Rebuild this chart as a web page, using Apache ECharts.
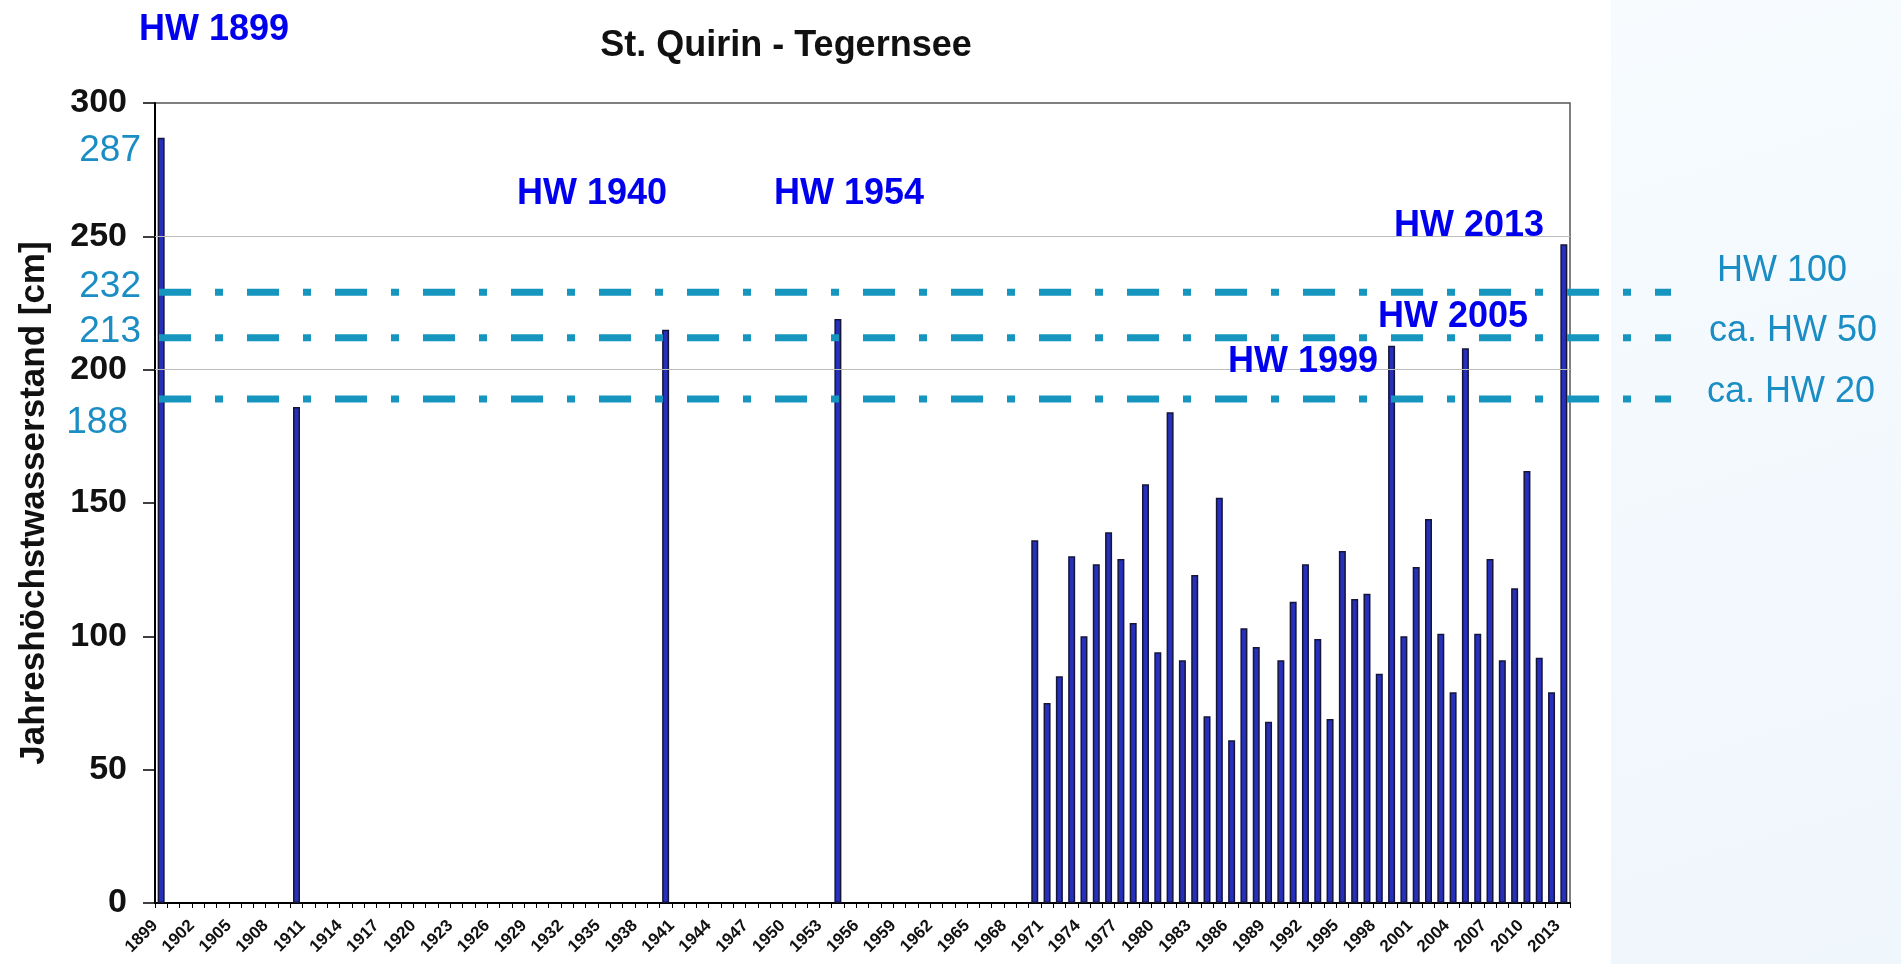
<!DOCTYPE html>
<html><head><meta charset="utf-8">
<script src="https://cdn.jsdelivr.net/npm/echarts@6/dist/echarts.min.js"></script>
<style>html,body{margin:0;padding:0;background:#fff}#c{width:1901px;height:964px}</style>
</head><body><div id="c"></div>
<script>
// ---------- data ----------
const firstYear = 1899;
const lastYear = 2013;
const years = [];
for (let y = firstYear; y <= lastYear; y++) years.push(String(y));
const tickYears = [];
for (let y = firstYear; y <= lastYear + 1; y++) tickYears.push(String(y));

// annual maximum water level [cm], null = no record
const waterLevel = [
  287,                                                   // 1899
  null,null,null,null,null,null,null,null,null,null,     // 1900-1909
  186,                                                   // 1910
  null,null,null,null,null,null,null,null,null,null,     // 1911-1920
  null,null,null,null,null,null,null,null,null,null,     // 1921-1930
  null,null,null,null,null,null,null,null,null,          // 1931-1939
  215,                                                   // 1940
  null,null,null,null,null,null,null,null,null,null,null,null,null, // 1941-1953
  219,                                                   // 1954
  null,null,null,null,null,null,null,null,null,null,null,null,null,null,null, // 1955-1969
  136, 75, 85,130,100,127,139,129,105,157,               // 1970-1979
   94,184, 91,123, 70,152, 61,103, 96, 68,               // 1980-1989
   91,113,127, 99, 69,132,114,116, 86,209,               // 1990-1999
  100,126,144,101, 79,208,101,129, 91,118,               // 2000-2009
  162, 92, 79,247                                        // 2010-2013
];

const yMin = 0, yMax = 300, yStep = 50;
const gridLevels = [200, 250];
const thresholdLevels = [229, 212, 189];
const leftLabels = ['287', '232', '213', '188'];
const rightLabels = ['HW 100', 'ca. HW 50', 'ca. HW 20'];
const floodLabels = ['HW 1899', 'HW 1940', 'HW 1954', 'HW 1999', 'HW 2005', 'HW 2013'];
const chartTitle = 'St. Quirin - Tegernsee';
const yAxisTitle = 'Jahreshöchstwasserstand [cm]';

// ---------- chart ----------
const FONT = '"Liberation Sans", Arial, sans-serif';
const TEAL_TXT = '#1a8dc4';
const TEAL_LINE = '#1696bf';
const BLUE = '#0000ee';

const chart = echarts.init(document.getElementById('c'), null, {renderer: 'canvas'});

const thresholdSeries = thresholdLevels.map((lv) => ({
  type: 'line',
  xAxisIndex: 2,
  yAxisIndex: 1,
  data: [[0, lv], [1, lv]],
  symbol: 'none',
  silent: true,
  z: 5,
  lineStyle: {color: TEAL_LINE, width: 7, type: [32, 24, 8, 24], cap: 'butt'}
}));

function txt(text, x, y, size, weight, color, align) {
  return {
    type: 'text', x: x, y: y, z: 10,
    style: {text: text, fill: color, font: weight + ' ' + size + 'px ' + FONT,
            align: align || 'center', verticalAlign: 'middle'}
  };
}

const floodPos = [[214, 30], [592, 194], [849, 194], [1303, 362], [1453, 317], [1469, 226]];
const leftPos = [[141, 151], [141, 287], [141, 332], [128, 423]];
const rightPos = [[1782, 271], [1793, 331], [1791, 392]];

const graphics = [
  {type: 'rect', z: -1, shape: {x: 1611, y: 0, width: 290, height: 964},
   style: {fill: new echarts.graphic.LinearGradient(0, 0, 1, 1, [
     {offset: 0, color: '#f7fbfe'}, {offset: 1, color: '#eff6fc'}])}},
  txt(chartTitle, 786, 46, 36, 'bold', '#111', 'center')
];
floodLabels.forEach((t, i) => graphics.push(txt(t, floodPos[i][0], floodPos[i][1], 36, 'bold', BLUE)));
leftLabels.forEach((t, i) => graphics.push(txt(t, leftPos[i][0], leftPos[i][1], 37, 'normal', TEAL_TXT, 'right')));
rightLabels.forEach((t, i) => graphics.push(txt(t, rightPos[i][0], rightPos[i][1], 36, 'normal', TEAL_TXT)));

const option = {
  backgroundColor: '#ffffff',
  animation: false,
  textStyle: {fontFamily: FONT},
  grid: [
    {left: 155, right: 331, top: 103, bottom: 61, show: true, borderColor: '#555', borderWidth: 1.5, backgroundColor: 'transparent'},
    {left: 159, right: 230, top: 103, bottom: 61, show: false}
  ],
  xAxis: [
    {type: 'category', gridIndex: 0, data: years, boundaryGap: true,
     axisLine: {show: true, lineStyle: {color: '#000', width: 2}},
     axisTick: {show: true, interval: 0, length: 5, lineStyle: {color: '#000', width: 1}},
     axisLabel: {show: false}, splitLine: {show: false}},
    {type: 'category', gridIndex: 0, position: 'bottom', data: tickYears, boundaryGap: false,
     axisLine: {show: false}, axisTick: {show: false}, splitLine: {show: false},
     axisLabel: {show: true, interval: 2, rotate: 45, margin: 20, fontSize: 17, fontWeight: 'bold',
                 color: '#111', fontFamily: FONT}},
    {type: 'value', gridIndex: 1, min: 0, max: 1, show: false}
  ],
  yAxis: [
    {type: 'value', gridIndex: 0, min: yMin, max: yMax, interval: yStep,
     name: yAxisTitle, nameLocation: 'middle', nameGap: 103, nameRotate: 90,
     nameTextStyle: {fontSize: 35, fontWeight: 'bold', color: '#111', fontFamily: FONT},
     axisLine: {show: true, lineStyle: {color: '#000', width: 2}},
     axisTick: {show: true, length: 12, lineStyle: {color: '#000', width: 1.5}},
     axisLabel: {margin: 28, fontSize: 34, fontWeight: 'bold', color: '#111', fontFamily: FONT},
     splitLine: {show: false}},
    {type: 'value', gridIndex: 1, min: yMin, max: yMax, show: false}
  ],
  series: [
    {type: 'bar', xAxisIndex: 0, yAxisIndex: 0, data: waterLevel, barWidth: 7,
     itemStyle: {color: '#2630bb', borderColor: '#15153a', borderWidth: 1.5},
     markLine: {silent: true, symbol: 'none', label: {show: false},
                lineStyle: {color: '#bdbdbd', width: 1.2, type: 'solid'},
                data: gridLevels.map(v => ({yAxis: v}))},
     z: 3}
  ].concat(thresholdSeries),
  graphic: graphics
};
chart.setOption(option);
</script>
</body></html>
